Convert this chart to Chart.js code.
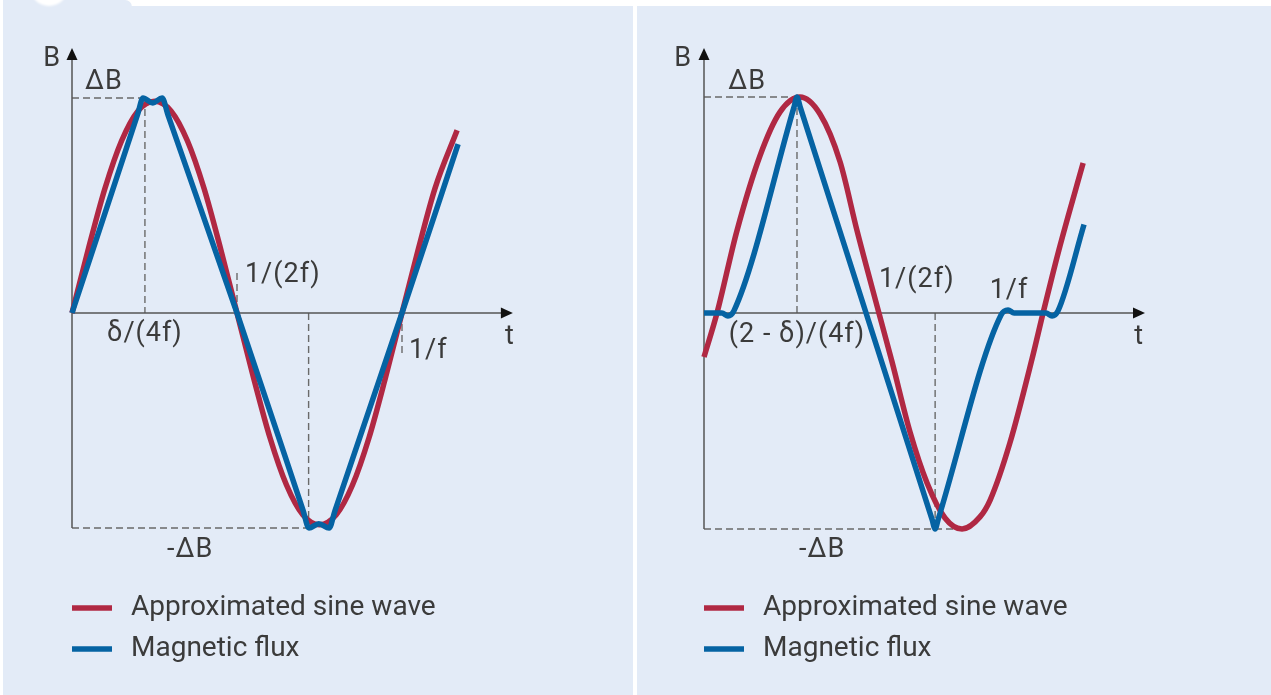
<!DOCTYPE html>
<html>
<head>
<meta charset="utf-8">
<script src="https://cdn.jsdelivr.net/npm/chart.js@4.4.1/dist/chart.umd.min.js"></script>
<style>
  html, body { margin: 0; padding: 0; background: #fff; }
  body { width: 1271px; height: 695px; position: relative; overflow: hidden; }
  .panel { position: absolute; top: 6px; bottom: 0; background: #e3ebf7; }
  #tab { position: absolute; left: 3px; top: 0; width: 129px; height: 12px; background: #e3ebf7; border-radius: 0 7px 0 0; }
  #dot { position: absolute; left: 27px; top: -32px; width: 38px; height: 38px; border-radius: 50%; background: #fff; filter: blur(1px); }
  canvas { position: absolute; top: 0; }
</style>
</head>
<body>
<div class="panel" style="left:3px; width:630px"></div>
<div class="panel" style="left:637px; width:634px"></div>
<div id="tab"><div id="dot"></div></div>
<canvas id="left" width="635" height="695" style="left:0"></canvas>
<canvas id="right" width="635" height="695" style="left:636px"></canvas>
<script>
// time in units of 1/f, flux density in units of ΔB

// symmetric excitation
const sineTimeA = [0, 0.05, 0.1, 0.15, 0.2, 0.25, 0.3, 0.35, 0.4, 0.45, 0.5, 0.55, 0.6, 0.65, 0.7, 0.75, 0.8, 0.85, 0.9, 0.95, 1, 1.05, 1.1, 1.167];
const sineA     = [0, 0.30, 0.58, 0.80, 0.94, 0.985, 0.94, 0.80, 0.58, 0.30, 0, -0.30, -0.58, -0.80, -0.94, -0.985, -0.94, -0.80, -0.58, -0.30, 0, 0.30, 0.58, 0.85];
const fluxTimeA = [0, 0.2, 0.215, 0.245, 0.273, 0.291, 0.5, 0.7, 0.718, 0.748, 0.779, 0.797, 1, 1.17];
const fluxA     = [0, 0.93, 1.0, 0.977, 1.0, 0.92, 0, -0.917, -1.0, -0.98, -1.0, -0.919, 0, 0.785];

// asymmetric excitation with dead time
const sineTimeB = [0, 0.0435, 0.11, 0.187, 0.254, 0.321, 0.388, 0.455, 0.512, 0.585, 0.629, 0.689, 0.746, 0.806, 0.863, 0.923, 0.957, 1.023, 1.097, 1.134, 1.187, 1.268];
const sineB     = [-0.204, 0, 0.38, 0.727, 0.93, 1.0, 0.921, 0.70, 0.38, 0, -0.227, -0.551, -0.787, -0.949, -1.0, -0.944, -0.866, -0.602, -0.213, 0, 0.292, 0.694];
const fluxTimeB = [0, 0.06, 0.08, 0.1, 0.301, 0.311, 0.321, 0.763, 0.773, 0.783, 0.993, 1.017, 1.037, 1.144, 1.164, 1.184, 1.271];
const fluxB     = [0, 0, -0.014, 0.01, 0.953, 1.0, 0.957, -0.957, -1.0, -0.956, -0.01, 0.014, 0, 0, -0.014, 0.01, 0.41];

const seriesNames = ['Approximated sine wave', 'Magnetic flux'];

// axis markers: [text, t, B, align]
const marksA = [
  ['B', -0.06, 1.18, 'center'],
  ['ΔB', 0.097, 1.074, 'center'],
  ['δ/(4f)', 0.221, -0.098, 'center'],
  ['1/(2f)', 0.524, 0.177, 'left'],
  ['1/f', 1.021, -0.177, 'left'],
  ['t', 1.327, -0.112, 'center'],
  ['-ΔB', 0.358, -1.102, 'center']
];
const marksB = [
  ['B', -0.07, 1.176, 'center'],
  ['ΔB', 0.144, 1.069, 'center'],
  ['(2 - δ)/(4f)', 0.311, -0.102, 'center'],
  ['1/(2f)', 0.585, 0.153, 'left'],
  ['1/f', 1.02, 0.102, 'center'],
  ['t', 1.455, -0.111, 'center'],
  ['-ΔB', 0.395, -1.097, 'center']
];

// dashed guides: [t1, B1, t2, B2]
const guidesA = [[0, 1, 0.221, 1], [0.221, 1, 0.221, 0], [0, -1, 0.718, -1], [0.717, 0, 0.717, -1], [0.5, 0, 0.5, 0.186], [1, 0, 1, -0.186]];
const guidesB = [[0, 1, 0.311, 1], [0.311, 1, 0.311, 0], [0, -1, 0.833, -1], [0.773, 0, 0.773, -1]];

const RED = '#b02843';
const BLUE = '#0563a3';
const INK = '#3b3b3b';
const FONT = 'Roboto, "Noto Sans", sans-serif';

const pts = (xs, ys) => xs.map((x, i) => ({x: x, y: ys[i]}));

const sketch = {
  id: 'sketch',
  beforeDatasetsDraw(chart, args, o) {
    const {ctx, scales: {x, y}} = chart;
    const px = v => x.getPixelForValue(v);
    const py = v => y.getPixelForValue(v);
    ctx.save();

    ctx.strokeStyle = '#6a6a6a';
    ctx.lineWidth = 1.4;
    ctx.setLineDash([7, 4]);
    o.guides.forEach(g => {
      ctx.beginPath();
      ctx.moveTo(px(g[0]), py(g[1]));
      ctx.lineTo(px(g[2]), py(g[3]));
      ctx.stroke();
    });

    // axes with arrow heads
    ctx.setLineDash([]);
    ctx.strokeStyle = '#555';
    ctx.fillStyle = '#111';
    ctx.lineWidth = 1.5;
    const x0 = px(0), y0 = py(0), yTop = py(o.yTip), xEnd = px(o.xTip);
    ctx.beginPath();
    ctx.moveTo(x0, py(-1));
    ctx.lineTo(x0, yTop + 10);
    ctx.moveTo(x0, y0);
    ctx.lineTo(xEnd - 10, y0);
    ctx.stroke();
    ctx.beginPath();
    ctx.moveTo(x0, yTop);
    ctx.lineTo(x0 - 5.5, yTop + 12);
    ctx.lineTo(x0 + 5.5, yTop + 12);
    ctx.closePath();
    ctx.fill();
    ctx.beginPath();
    ctx.moveTo(xEnd, y0);
    ctx.lineTo(xEnd - 12, y0 - 5.5);
    ctx.lineTo(xEnd - 12, y0 + 5.5);
    ctx.closePath();
    ctx.fill();

    ctx.fillStyle = INK;
    ctx.font = '27px ' + FONT;
    ctx.letterSpacing = '1px';
    ctx.textBaseline = 'middle';
    o.marks.forEach(m => {
      ctx.textAlign = m[3];
      ctx.fillText(m[0], px(m[1]), py(m[2]));
    });

    // legend, one row per series
    ctx.font = '28px ' + FONT;
    ctx.letterSpacing = '0px';
    ctx.textAlign = 'left';
    ctx.lineWidth = 5.5;
    chart.data.datasets.slice().sort((a, b) => b.order - a.order).forEach((ds, i) => {
      const ly = o.legendY + i * 41;
      ctx.strokeStyle = ds.borderColor;
      ctx.beginPath();
      ctx.moveTo(x0, ly);
      ctx.lineTo(x0 + 40, ly);
      ctx.stroke();
      ctx.fillText(ds.label, x0 + 59, ly);
    });
    ctx.restore();
  }
};

function makeChart(id, sine, flux, view, extra) {
  const canvas = document.getElementById(id);
  const W = canvas.width, H = canvas.height;
  const pad = {
    left: view.ox + view.sx * view.tMin,
    right: W - (view.ox + view.sx * view.tMax),
    top: view.oy - view.sy * view.bMax,
    bottom: H - (view.oy - view.sy * view.bMin)
  };
  return new Chart(canvas, {
    type: 'line',
    data: {
      datasets: [
        {label: seriesNames[0], data: sine, borderColor: RED, order: 1},
        {label: seriesNames[1], data: flux, borderColor: BLUE, order: 0}
      ]
    },
    options: {
      responsive: false,
      animation: false,
      events: [],
      layout: {padding: pad},
      datasets: {line: {borderWidth: 5.5, cubicInterpolationMode: 'monotone', pointRadius: 0, clip: false, fill: false, borderCapStyle: 'butt', borderJoinStyle: 'round'}},
      scales: {
        x: {type: 'linear', min: view.tMin, max: view.tMax, display: false},
        y: {type: 'linear', min: view.bMin, max: view.bMax, display: false}
      },
      plugins: {
        legend: {display: false},
        tooltip: {enabled: false},
        sketch: extra
      }
    },
    plugins: [sketch]
  });
}

makeChart('left', pts(sineTimeA, sineA), pts(fluxTimeA, fluxA),
  {ox: 72, oy: 313, sx: 330, sy: 215, tMin: 0, tMax: 1.35, bMin: -1.15, bMax: 1.25},
  {guides: guidesA, marks: marksA, yTip: 1.233, xTip: 1.336, legendY: 608});

makeChart('right', pts(sineTimeB, sineB), pts(fluxTimeB, fluxB),
  {ox: 68, oy: 313, sx: 299, sy: 216, tMin: 0, tMax: 1.5, bMin: -1.15, bMax: 1.25},
  {guides: guidesB, marks: marksB, yTip: 1.227, xTip: 1.475, legendY: 608});
</script>
</body>
</html>
